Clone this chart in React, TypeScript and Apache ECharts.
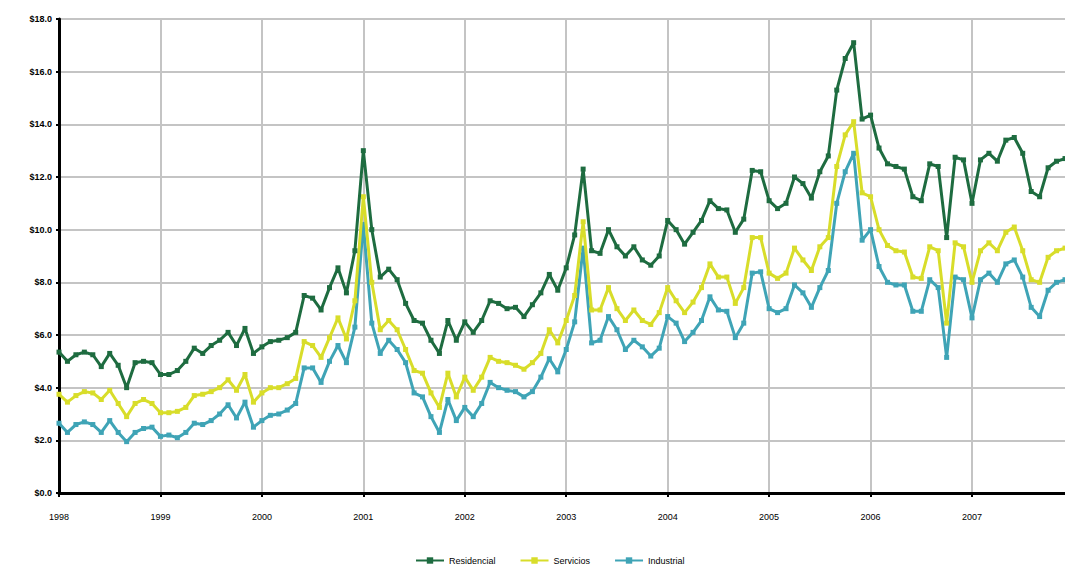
import React, { useEffect, useRef } from "react";
import * as echarts from "echarts";

const years = ["1998", "1999", "2000", "2001", "2002", "2003", "2004", "2005", "2006", "2007"];
const monthsPerYear = 12;
const categories: string[] = [];
years.forEach((y) => {
  for (let m = 1; m <= monthsPerYear; m++) categories.push(`${y}-${String(m).padStart(2, "0")}`);
});

const seriesNames = ["Residencial", "Servicios", "Industrial"];

const residencial = [
  5.35, 5.0, 5.25, 5.35, 5.25, 4.8, 5.3, 4.85, 4.0, 4.95, 5.0, 4.95,
  4.5, 4.5, 4.65, 5.0, 5.5, 5.3, 5.6, 5.8, 6.1, 5.6, 6.25, 5.3,
  5.55, 5.75, 5.8, 5.9, 6.1, 7.5, 7.4, 6.95, 7.8, 8.55, 7.6, 9.2,
  13.0, 10.0, 8.2, 8.5, 8.1, 7.2, 6.55, 6.45, 5.8, 5.3, 6.55, 5.8,
  6.5, 6.1, 6.55, 7.3, 7.2, 7.0, 7.05, 6.7, 7.15, 7.6, 8.3, 7.7,
  8.55, 9.8, 12.3, 9.2, 9.1, 10.0, 9.35, 9.0, 9.35, 8.85, 8.65, 9.0,
  10.35, 10.0, 9.45, 9.9, 10.35, 11.1, 10.8, 10.75, 9.9, 10.4, 12.25, 12.2,
  11.1, 10.8, 11.0, 12.0, 11.75, 11.2, 12.2, 12.8, 15.3, 16.5, 17.1, 14.2,
  14.35, 13.1, 12.5, 12.4, 12.3, 11.25, 11.1, 12.5, 12.4, 9.7, 12.75, 12.65,
  11.0, 12.65, 12.9, 12.6, 13.4, 13.5, 12.9, 11.45, 11.25, 12.35, 12.6, 12.7,
];

const servicios = [
  3.75, 3.45, 3.7, 3.85, 3.8, 3.55, 3.9, 3.4, 2.9, 3.4, 3.55, 3.4,
  3.05, 3.05, 3.1, 3.25, 3.7, 3.75, 3.85, 4.0, 4.3, 3.9, 4.5, 3.45,
  3.8, 4.0, 4.0, 4.15, 4.35, 5.75, 5.6, 5.15, 5.9, 6.65, 5.85, 7.3,
  11.25, 8.0, 6.2, 6.55, 6.2, 5.45, 4.65, 4.55, 3.8, 3.25, 4.55, 3.65,
  4.4, 3.9, 4.4, 5.15, 5.0, 4.95, 4.85, 4.7, 4.95, 5.3, 6.2, 5.7,
  6.55, 7.5, 10.3, 6.95, 6.95, 7.8, 7.0, 6.55, 6.95, 6.55, 6.4, 6.85,
  7.8, 7.3, 6.85, 7.25, 7.8, 8.7, 8.2, 8.2, 7.2, 7.8, 9.7, 9.7,
  8.35, 8.15, 8.35, 9.3, 8.85, 8.45, 9.35, 9.7, 12.4, 13.6, 14.1, 11.4,
  11.25, 10.0, 9.4, 9.2, 9.15, 8.2, 8.15, 9.35, 9.2, 6.45, 9.5, 9.35,
  8.0, 9.2, 9.5, 9.2, 9.9, 10.1, 9.2, 8.1, 8.0, 8.95, 9.2, 9.3,
];

const industrial = [
  2.65, 2.3, 2.6, 2.7, 2.6, 2.3, 2.75, 2.3, 1.95, 2.3, 2.45, 2.5,
  2.15, 2.2, 2.1, 2.3, 2.65, 2.6, 2.75, 3.0, 3.35, 2.85, 3.45, 2.5,
  2.75, 2.95, 3.0, 3.15, 3.4, 4.75, 4.75, 4.2, 5.0, 5.6, 4.95, 6.3,
  10.2, 6.45, 5.3, 5.8, 5.45, 4.95, 3.8, 3.65, 2.9, 2.3, 3.55, 2.75,
  3.25, 2.9, 3.4, 4.2, 4.0, 3.9, 3.85, 3.65, 3.85, 4.4, 5.1, 4.6,
  5.45, 6.5, 9.3, 5.7, 5.8, 6.7, 6.2, 5.45, 5.8, 5.55, 5.2, 5.5,
  6.7, 6.45, 5.75, 6.1, 6.55, 7.45, 6.95, 6.9, 5.9, 6.45, 8.35, 8.4,
  7.0, 6.85, 7.0, 7.9, 7.6, 7.05, 7.8, 8.45, 11.0, 12.2, 12.9, 9.6,
  10.0, 8.6, 8.0, 7.9, 7.9, 6.9, 6.9, 8.1, 7.8, 5.15, 8.2, 8.1,
  6.65, 8.1, 8.35, 8.0, 8.7, 8.85, 8.2, 7.05, 6.7, 7.7, 8.0, 8.1,
];

const yMin = 0;
const yMax = 18;
const yStep = 2;

const colors = ["#1e6c40", "#d8dd2a", "#3fa4b6"];

export default function App() {
  const ref = useRef<HTMLDivElement>(null);
  useEffect(() => {
    if (!ref.current) return;
    const chart = echarts.init(ref.current, undefined, { renderer: "svg" });
    const isYear = (index: number) => index % monthsPerYear === 0;
    const dataSets = [residencial, servicios, industrial];
    chart.setOption({
      animation: false,
      backgroundColor: "#ffffff",
      textStyle: { fontFamily: "Liberation Sans, Arial, sans-serif" },
      grid: { left: 59, top: 19, bottom: 71, right: -1, containLabel: false },
      legend: {
        data: seriesNames,
        left: 410,
        top: 551,
        itemWidth: 28,
        itemHeight: 8,
        itemGap: 24,
        textStyle: { fontSize: 9, color: "#000", fontFamily: "Liberation Sans, Arial, sans-serif" },
      },
      xAxis: {
        type: "category",
        data: categories,
        boundaryGap: false,
        axisLine: { show: true, lineStyle: { color: "#000", width: 3 } },
        axisTick: { show: true, interval: (i: number) => isYear(i), length: 4, lineStyle: { color: "#000", width: 2 } },
        axisLabel: {
          interval: (i: number) => isYear(i),
          formatter: (v: string) => v.slice(0, 4),
          fontSize: 9,
          color: "#000",
          margin: 19,
        },
        splitLine: { show: true, interval: (i: number) => isYear(i), lineStyle: { color: "#c4c4c4", width: 2 } },
      },
      yAxis: {
        type: "value",
        min: yMin,
        max: yMax,
        interval: yStep,
        axisLine: { show: true, lineStyle: { color: "#000", width: 3 } },
        axisTick: { show: true, length: 3, lineStyle: { color: "#000", width: 2 } },
        axisLabel: {
          formatter: (v: number) => "$" + v.toFixed(1),
          fontSize: 9,
          fontWeight: "bold",
          color: "#000",
          margin: 7,
        },
        splitLine: { show: true, lineStyle: { color: "#c4c4c4", width: 2 } },
      },
      series: seriesNames.map((name, k) => ({
        name,
        type: "line",
        data: dataSets[k],
        symbol: "rect",
        symbolSize: 5,
        showSymbol: true,
        color: colors[k],
        lineStyle: { width: 3, color: colors[k] },
        itemStyle: { color: colors[k] },
        z: 3 - k,
      })),
    });
    return () => chart.dispose();
  }, []);
  return (
    <div
      ref={ref}
      style={{ position: "fixed", left: 0, top: 0, width: 1065, height: 564, background: "#fff" }}
    />
  );
}
